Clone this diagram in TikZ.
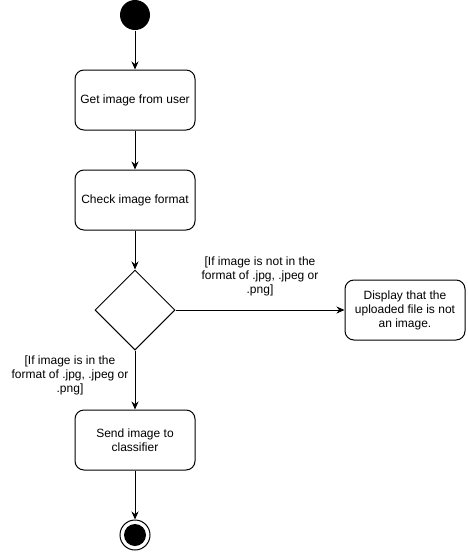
\documentclass[tikz,border=0pt]{standalone}
\usepackage{fontspec}
\setmainfont{Liberation Sans}
\usetikzlibrary{arrows.meta,shapes.geometric}

\begin{document}
\begin{tikzpicture}[x=1pt, y=-1pt, line width=1pt, font=\fontsize{12}{14}\selectfont,
  action/.style={draw, rounded corners=9pt, minimum width=120pt, minimum height=60pt, align=center, inner sep=2pt},
  flow/.style={-{Stealth[length=8pt,width=7pt]}}]
\useasboundingbox (0,0) rectangle (467,552); %page size of the reference
\node[circle, fill=black, minimum size=30pt, inner sep=0pt] (start) at (135,15) {}; %initial state
\node[action] (getimg) at (135,100) {Get image from user}; %first step
\node[action] (check) at (135,200) {Check image format}; %format check
\node[diamond, draw, minimum size=80pt, inner sep=0pt] (decide) at (135,310) {}; %decision
\node[action] (notimg) at (405,310) {Display that the\\uploaded file is not\\an image.}; %error message
\node[action] (send) at (135,440) {Send image to\\classifier}; %send step
\node[circle, draw, minimum size=30pt, inner sep=0pt] (final) at (135,535) {}; %final state
\fill (final.center) circle (11pt); %inner dot of final state
\draw[flow] (start) -- (getimg);
\draw[flow] (getimg) -- (check);
\draw[flow] (check) -- (decide);
\draw[flow] (decide) -- (notimg);
\draw[flow] (decide) -- (send);
\draw[flow] (send) -- (final);
\node[align=center] (nolabel) at (260,276) {[If image is not in the\\format of .jpg, .jpeg or\\.png]}; %guard of right branch
\node[align=center] (yeslabel) at (70,375) {[If image is in the\\format of .jpg, .jpeg or\\.png]}; %guard of lower branch
\end{tikzpicture}
\end{document}
